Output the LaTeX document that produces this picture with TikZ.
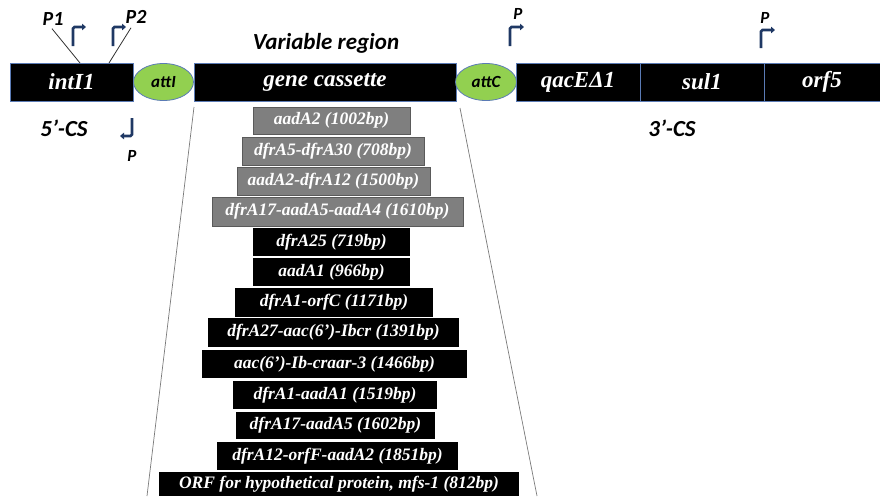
\documentclass[tikz,border=0pt]{standalone}
\usepackage{fontspec}
\setmainfont{Liberation Serif}
\newfontfamily\carl{Carlito}
\usetikzlibrary{arrows.meta,shapes.geometric}
\definecolor{navy}{HTML}{1F3864}
\definecolor{edgeblue}{HTML}{5B7BB5}
\definecolor{attgreen}{HTML}{92D050}
\definecolor{cassgray}{HTML}{7F7F7F}
\definecolor{cassedge}{HTML}{5A5A5A}
\definecolor{funnel}{HTML}{7A7A7A}
\begin{document}
\begin{tikzpicture}[x=1pt,y=-1pt,
  gene/.style={draw=edgeblue, line width=0.8pt, fill=black, text=white,
    font=\fontsize{23}{23}\selectfont\bfseries\itshape, inner sep=0pt, minimum height=38pt},
  att/.style={ellipse, draw=edgeblue, line width=0.8pt, fill=attgreen, text=black,
    font=\carl\fontsize{17}{17}\selectfont\bfseries\itshape, inner sep=0pt,
    minimum width=60pt, minimum height=37pt},
  cassrow/.style={rectangle, inner sep=0pt, text=white,
    font=\fontsize{17.5}{17.5}\selectfont\bfseries\itshape},
  grayrow/.style={cassrow, fill=cassgray, draw=cassedge, line width=0.6pt},
  blackrow/.style={cassrow, fill=black},
  sanslabel/.style={text=black, inner sep=1pt, font=\carl\bfseries\itshape\fontsize{#1}{#1}\selectfont},
  prom/.style={draw=navy, line width=2.8pt, rounded corners=1.5pt,
    -{Triangle[length=4pt,width=6.5pt]}},
  pointer/.style={draw=black!80, line width=0.8pt},
  funnelline/.style={draw=funnel, line width=0.7pt}
]
\useasboundingbox (0,0) rectangle (880,496);

% funnel lines
\coordinate (fl1) at (194,107);
\coordinate (fl2) at (147,496);
\coordinate (fr1) at (460,108);
\coordinate (fr2) at (537,496);
\draw[funnelline] (fl1) -- (fl2);
\draw[funnelline] (fr1) -- (fr2);

% main bar
\node[gene, minimum width=123pt] (intI) at (71.5,82) {intI1};
\node[att] (attI) at (163.5,82) {attI};
\node[gene, minimum width=262pt] (gc) at (325,82) {gene cassette};
\node[att, minimum width=61pt] (attC) at (486,82) {attC};
\node[gene, minimum width=124pt] (qac) at (578,82) {qacEΔ1};
\node[gene, minimum width=124pt] (sul) at (702,82) {sul1};
\node[gene, minimum width=116pt] (orf) at (822,82) {orf5};

% labels
\node[sanslabel=23] (vr) at (326,43) {Variable region};
\node[sanslabel=23] (cs5) at (64,128) {5’-CS};
\node[sanslabel=23] (cs3) at (672,128) {3’-CS};
\node[sanslabel=20] (P1) at (53,19) {P1};
\node[sanslabel=20] (P2) at (136,17) {P2};
\node[sanslabel=17] (Pa) at (132,156) {P};
\node[sanslabel=17] (Pb) at (518,14) {P};
\node[sanslabel=17] (Pc) at (765,18) {P};

% pointers from P1/P2
\coordinate (p1foot) at (80,63);
\coordinate (p2foot) at (109,63);
\draw[pointer] ([xshift=-1pt,yshift=-2pt]P1.south) -- (p1foot);
\draw[pointer] ([xshift=-5pt,yshift=-3pt]P2.south) -- (p2foot);

% promoter arrows
\coordinate (a1s) at (73,46);  \coordinate (a1e) at (86,27);
\coordinate (a2s) at (113,46); \coordinate (a2e) at (126,27);
\coordinate (a3s) at (132,118); \coordinate (a3e) at (120,136);
\coordinate (a4s) at (510,46); \coordinate (a4e) at (524,27);
\coordinate (a5s) at (761,48); \coordinate (a5e) at (775,30);
\draw[prom] (a1s) |- (a1e);
\draw[prom] (a2s) |- (a2e);
\draw[prom] (a3s) |- (a3e);
\draw[prom] (a4s) |- (a4e);
\draw[prom] (a5s) |- (a5e);

% cassette list
\node[grayrow, minimum width=157pt, minimum height=27pt] (c1) at (331.5,120.5) {aadA2 (1002bp)};
\node[grayrow, minimum width=182pt, minimum height=28pt] (c2) at (333,151) {dfrA5-dfrA30 (708bp)};
\node[grayrow, minimum width=193pt, minimum height=28pt] (c3) at (333.5,181) {aadA2-dfrA12 (1500bp)};
\node[grayrow, minimum width=251pt, minimum height=29pt] (c4) at (337.5,211.5) {dfrA17-aadA5-aadA4 (1610bp)};
\node[blackrow, minimum width=157pt, minimum height=28pt] (c5) at (331.5,242) {dfrA25 (719bp)};
\node[blackrow, minimum width=157pt, minimum height=28pt] (c6) at (331.5,272) {aadA1 (966bp)};
\node[blackrow, minimum width=198pt, minimum height=29pt] (c7) at (334,302.5) {dfrA1-orfC (1171bp)};
\node[blackrow, minimum width=251pt, minimum height=29pt] (c8) at (333.5,332.5) {dfrA27-aac(6’)-Ibcr (1391bp)};
\node[blackrow, minimum width=265pt, minimum height=28pt] (c9) at (334.5,364) {aac(6’)-Ib-craar-3 (1466bp)};
\node[blackrow, minimum width=204pt, minimum height=28pt] (c10) at (335,395) {dfrA1-aadA1 (1519bp)};
\node[blackrow, minimum width=199pt, minimum height=27pt] (c11) at (335.5,425.5) {dfrA17-aadA5 (1602bp)};
\node[blackrow, minimum width=241pt, minimum height=28pt] (c12) at (337.5,456) {dfrA12-orfF-aadA2 (1851bp)};
\node[blackrow, minimum width=360pt, minimum height=24pt] (c13) at (339,484) {ORF for hypothetical protein, mfs-1 (812bp)};
\end{tikzpicture}
\end{document}
